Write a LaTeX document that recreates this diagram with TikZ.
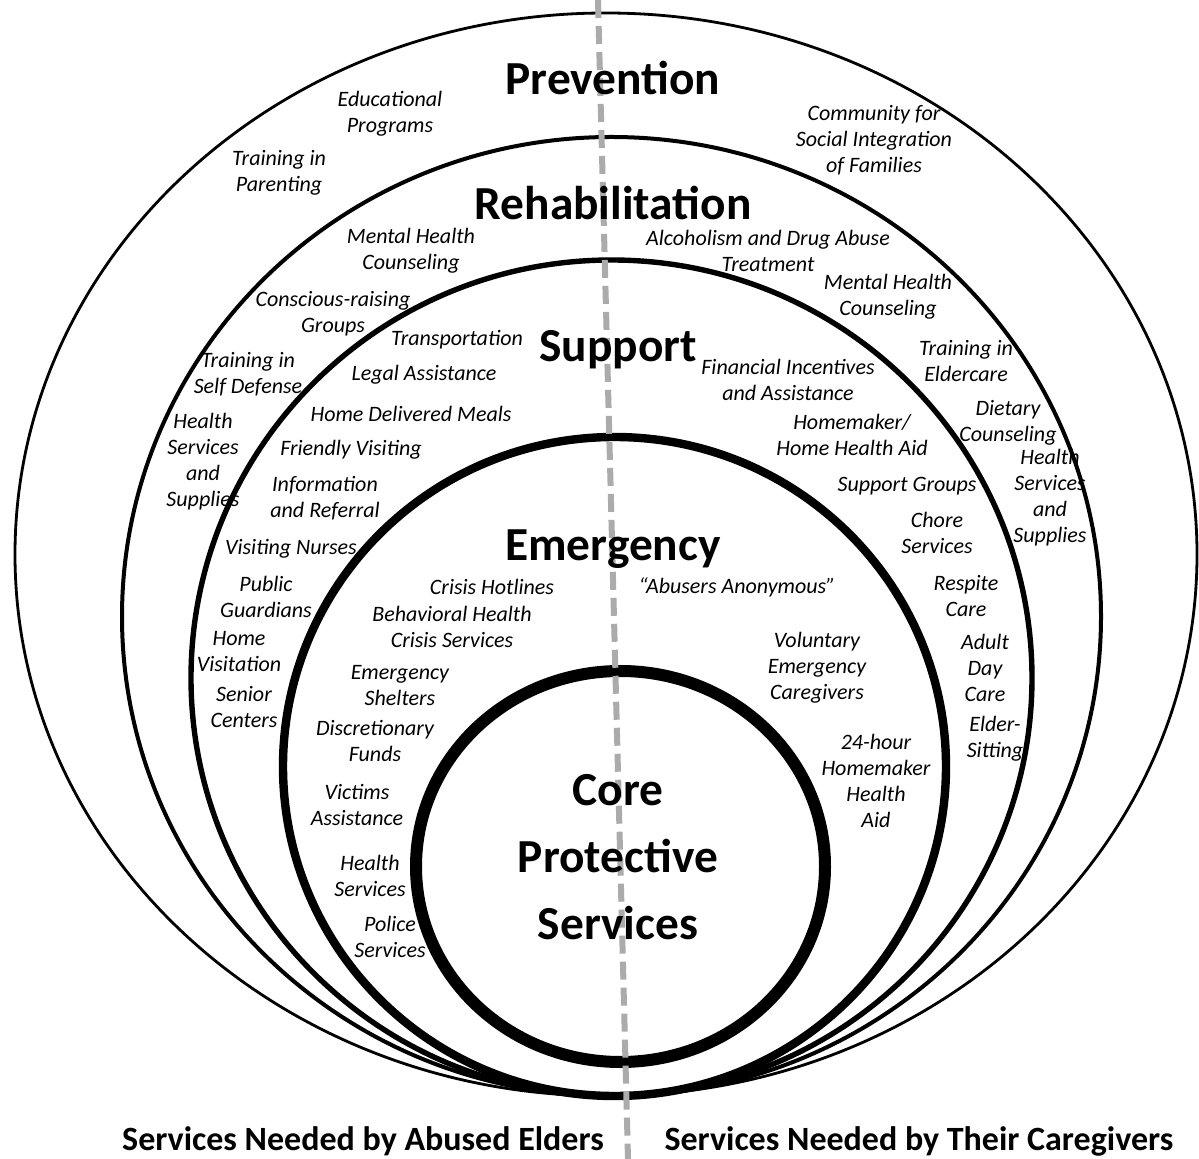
\documentclass[tikz,border=0pt]{standalone}
\usepackage{fontspec}
\setmainfont{Carlito}
\begin{document}
\begin{tikzpicture}[x=0.5pt,y=-0.5pt,
  item/.style={font=\fontsize{11}{13}\selectfont\itshape, align=center, inner sep=0pt},
  head/.style={font=\fontsize{23.7}{33.5}\selectfont\bfseries, align=center, inner sep=0pt},
  foot/.style={font=\fontsize{17}{20}\selectfont\bfseries, inner sep=0pt},
  divider/.style={draw=black!33, line width=3pt, dash pattern=on 9pt off 4pt}]
\useasboundingbox (0,0) rectangle (1199,1159);
% rings
\draw[line width=1.4pt] (606,554.5) ellipse [x radius=295.5pt, y radius=270.75pt];
\draw[line width=2pt] (611.5,616.5) ellipse [x radius=244.75pt, y radius=239.75pt];
\draw[line width=2.7pt] (611.5,678) ellipse [x radius=210.25pt, y radius=209pt];
\draw[line width=4.2pt] (614.5,766.5) ellipse [x radius=165.75pt, y radius=164.75pt];
\draw[line width=6pt] (620.5,866.5) ellipse [x radius=102.25pt, y radius=97.75pt];
% divider
\coordinate (dtop) at (598,0);
\coordinate (dbot) at (628,1159);
\draw[divider] (dtop) -- (dbot);
% headings
\node[head] (hprev) at (613,78) {Prevention};
\node[head] (hrehab) at (613,203) {Rehabilitation};
\node[head] (hsupp) at (618,350) {Support};
\node[head] (hemer) at (613,549) {Emergency};
\node[head] (hcore) at (618,857) {Core\\Protective\\Services};
% prevention items
\node[item] (p1) at (390,114) {Educational\\Programs};
\node[item] (p2) at (279,173) {Training in\\Parenting};
\node[item] (p3) at (874,140) {Community for\\Social Integration\\of Families};
% rehabilitation items
\node[item] (r1) at (411,251) {Mental Health\\Counseling};
\node[item] (r2) at (333,314) {Conscious-raising\\Groups};
\node[item] (r3) at (248,374) {Training in\\Self Defense};
\node[item] (r4) at (203,462) {Health\\Services\\and\\Supplies};
\node[item] (r5) at (768,251) {Alcoholism and Drug Abuse\\Treatment};
\node[item] (r6) at (888,297) {Mental Health\\Counseling};
\node[item] (r7) at (966,361) {Training in\\Eldercare};
\node[item] (r8) at (1008,423) {Dietary\\Counseling};
\node[item] (r9) at (1050,498) {Health\\Services\\and\\Supplies};
% support items
\node[item] (s1) at (457,340) {Transportation};
\node[item] (s2) at (424,375) {Legal Assistance};
\node[item] (s3) at (411,414) {Home Delivered Meals};
\node[item] (s4) at (351,450) {Friendly Visiting};
\node[item] (s5) at (325,498) {Information\\and Referral};
\node[item] (s6) at (291,549) {Visiting Nurses};
\node[item] (s7) at (266,597) {Public\\Guardians};
\node[item] (s8) at (239,652) {Home\\Visitation};
\node[item] (s9) at (244,707) {Senior\\Centers};
\node[item] (s10) at (788,380) {Financial Incentives\\and Assistance};
\node[item] (s11) at (852,435) {Homemaker/\\Home Health Aid};
\node[item] (s12) at (907,486) {Support Groups};
\node[item] (s13) at (937,533) {Chore\\Services};
\node[item] (s14) at (966,596) {Respite\\Care};
\node[item] (s15) at (985,668) {Adult\\Day\\Care};
\node[item] (s16) at (995,739) {Elder-\\Sitting};
% emergency items
\node[item] (e1) at (492,587) {Crisis Hotlines};
\node[item] (e2) at (452,627) {Behavioral Health\\Crisis Services};
\node[item] (e3) at (400,686) {Emergency\\Shelters};
\node[item] (e4) at (375,741) {Discretionary\\Funds};
\node[item] (e5) at (357,805) {Victims\\Assistance};
\node[item] (e6) at (370,876) {Health\\Services};
\node[item] (e7) at (390,937) {Police\\Services};
\node[item] (e8) at (737,587) {“Abusers Anonymous”};
\node[item] (e9) at (817,668) {Voluntary\\Emergency\\Caregivers};
\node[item] (e10) at (876,781) {24-hour\\Homemaker\\Health\\Aid};
% footers
\node[foot] (fleft) at (363,1141) {Services Needed by Abused Elders};
\node[foot] (fright) at (919,1141) {Services Needed by Their Caregivers};
\end{tikzpicture}
\end{document}
